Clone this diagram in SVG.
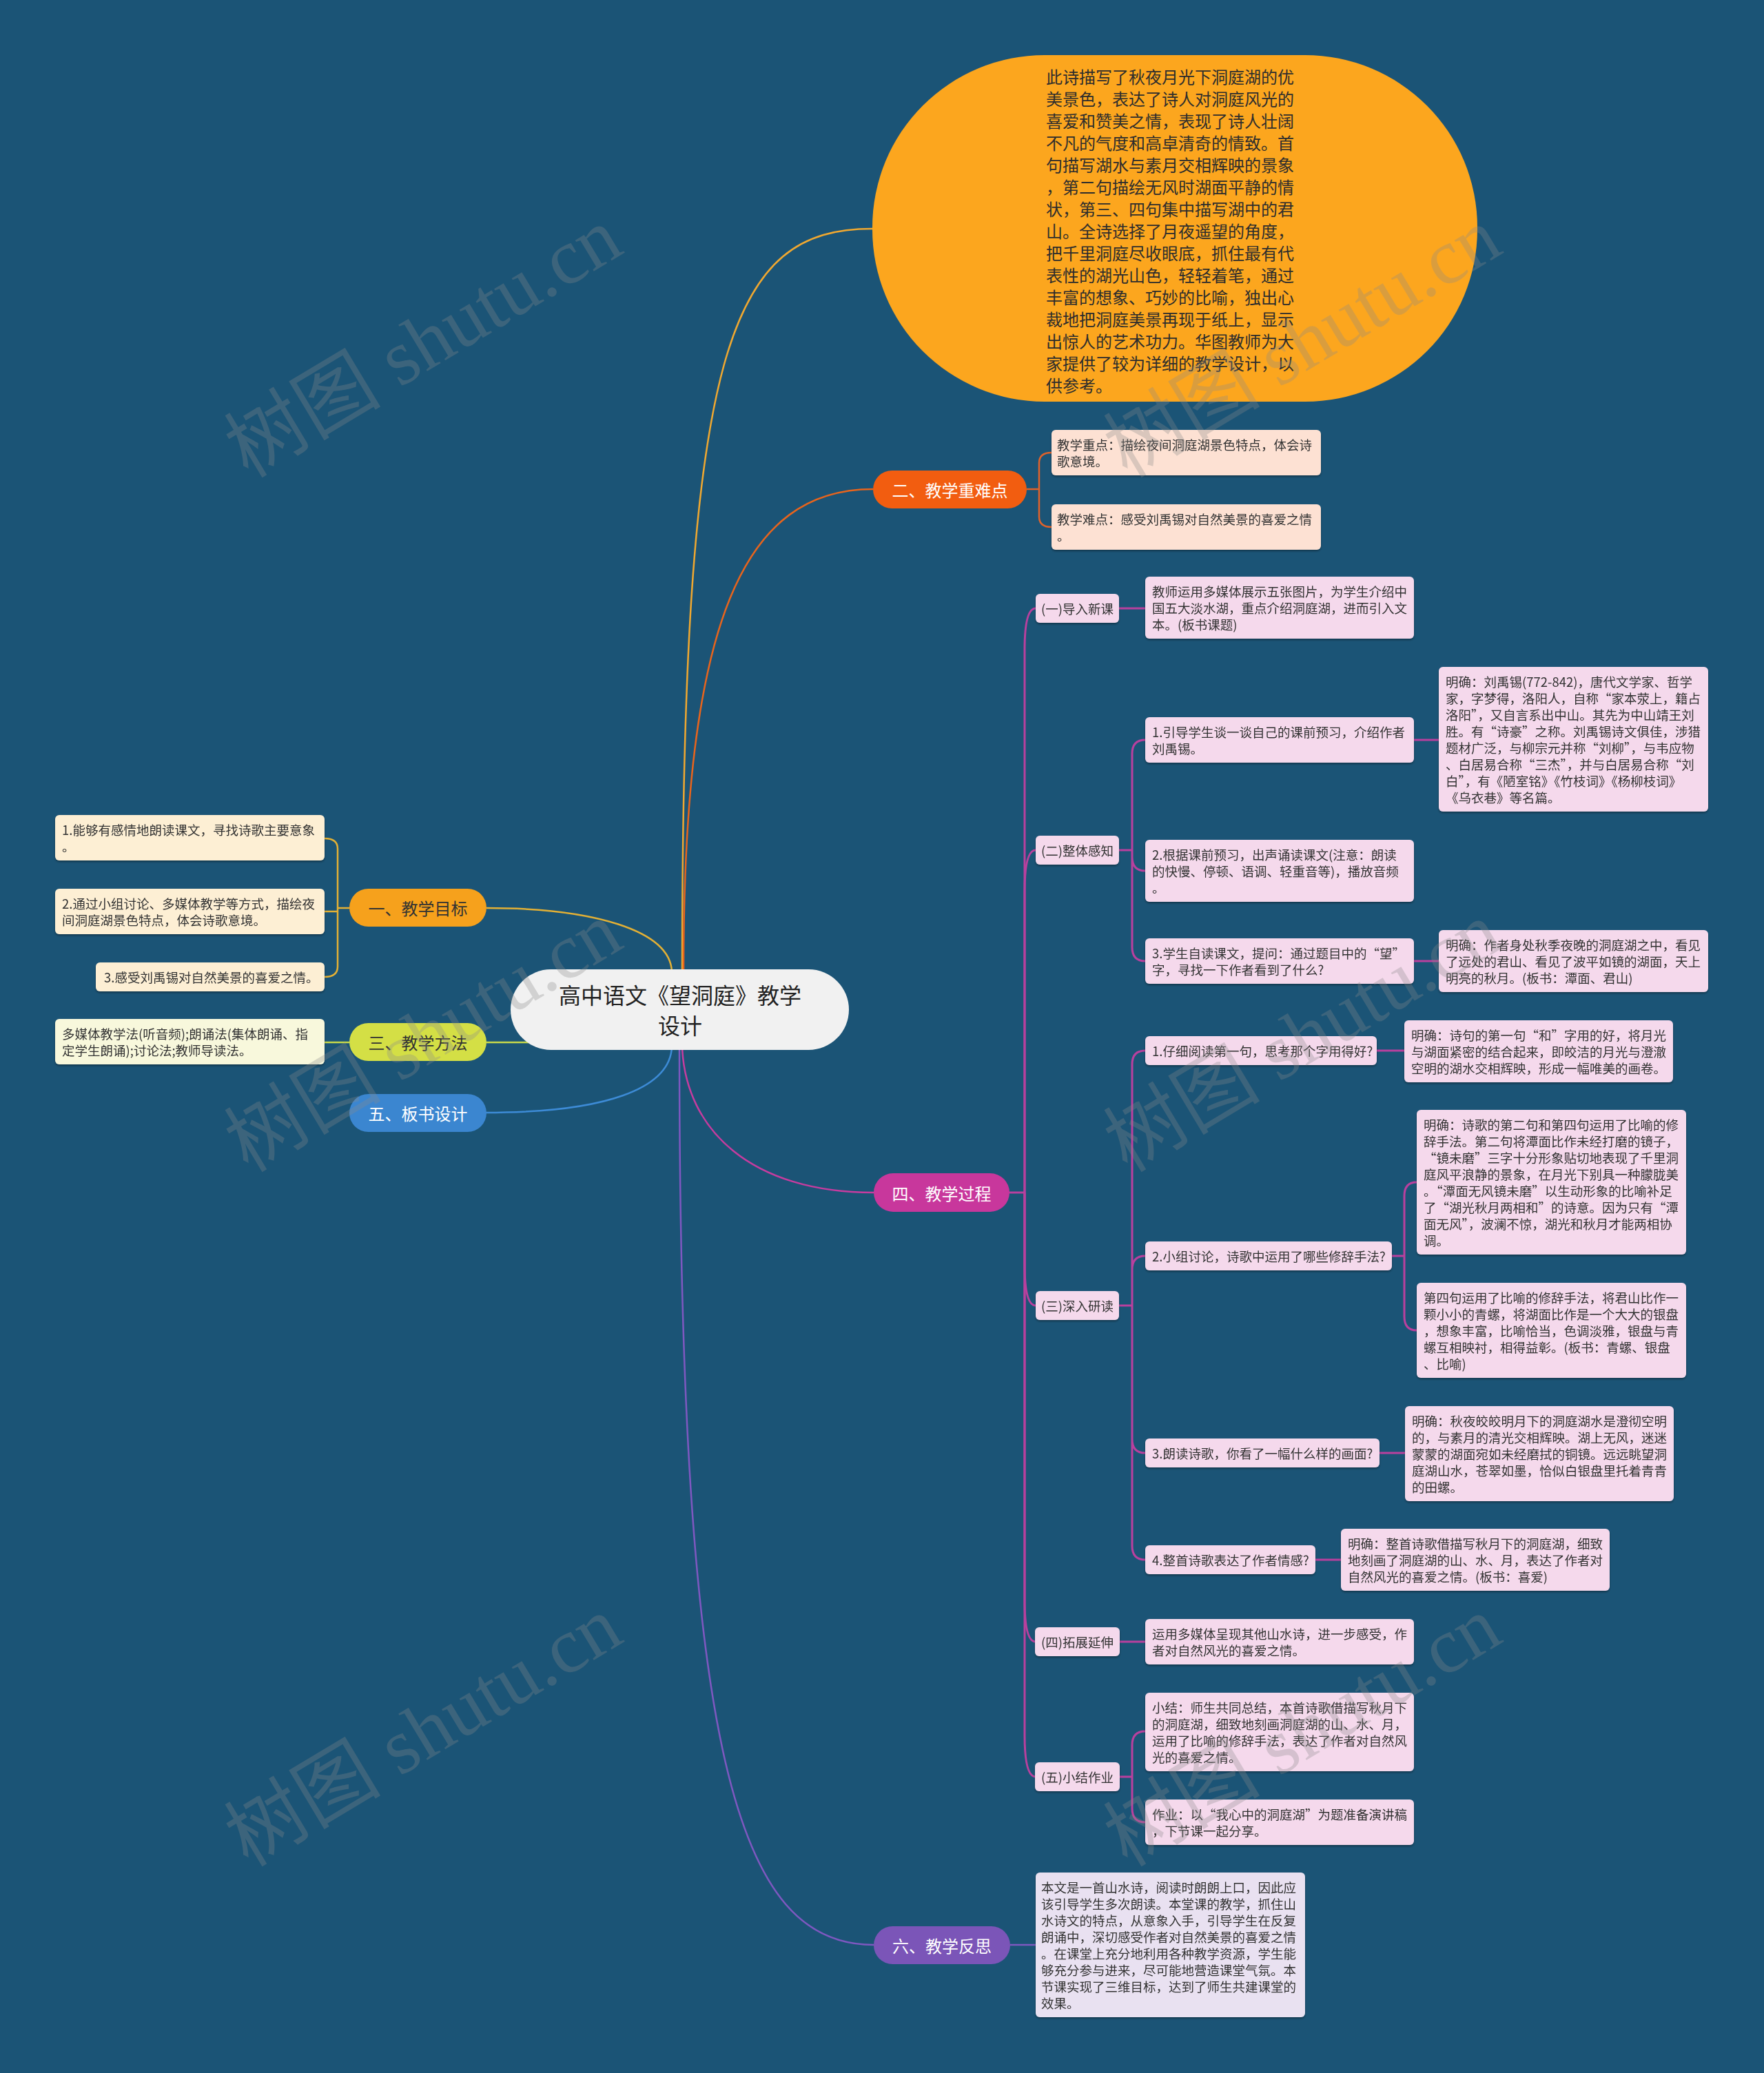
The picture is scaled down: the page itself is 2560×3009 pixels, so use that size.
<svg xmlns="http://www.w3.org/2000/svg" width="2560" height="3009" viewBox="0 0 2560 3009">
<defs>
<filter id="sh" x="-5%" y="-10%" width="110%" height="130%"><feDropShadow dx="0" dy="2" stdDeviation="1.5" flood-color="#000" flood-opacity="0.35"/></filter>
</defs>
<style>
text{font-family:"Noto Sans CJK SC","Liberation Sans",sans-serif;dominant-baseline:central}
.s{font-size:18.5px;fill:#333}
.m{font-size:24px;text-anchor:middle}
.w{fill:#fff}
.d{fill:#333}
.pk{fill:#f5d9ec}
.cn{fill:none;stroke-width:3}
.p4{stroke:#b9409e}
.wm{font-family:"Liberation Serif","Noto Sans CJK SC",serif;font-size:114px;fill:#8a8a8a;opacity:0.3;dominant-baseline:alphabetic}
</style>
<rect x="0" y="0" width="2560" height="3009" fill="#1b5476"/>

<g id="connectors" fill="none" stroke-width="2.5">
<path d="M990 1408 C990 500 1060 332 1266 332" stroke="#f0a830"/>
<path d="M992 1408 C992 900 1080 710 1267 710" stroke="#e8641c"/>
<path d="M706 1318 C860 1318 972 1350 975 1410" stroke="#e3b035"/>
<path d="M706 1513 L800 1513" stroke="#c8d94a"/>
<path d="M704 1615 C880 1615 972 1580 975 1520" stroke="#3d8bd6"/>
<path d="M990 1520 C995 1640 1090 1731 1268 1731" stroke="#c63c9f"/>
<path d="M986 1520 C986 2550 1070 2823 1268 2823" stroke="#7e58c0"/>
<g stroke="#e0622a">
<path d="M1490 710 H1508 M1508 710 V672 Q1508 657 1526 657 M1508 710 V750 Q1508 765 1526 765"/>
</g>
<g stroke="#e3b035">
<path d="M507 1318 H490 M490 1318 V1232 Q490 1217 471 1217 M490 1318 V1323 H471 M490 1318 V1403 Q490 1418 471 1418"/>
</g>
<path d="M471 1513 H507" stroke="#c8d94a"/>
<path d="M1466 2823 H1503" stroke="#7e58c0"/>
<g class="cn p4">
<path d="M1465 1731 H1487"/>
<path d="M1487 1731 V943 Q1487 883 1503 883"/>
<path d="M1487 1731 V1294 Q1487 1234 1503 1234"/>
<path d="M1487 1731 V1835 Q1487 1895 1503 1895"/>
<path d="M1487 1731 V2323 Q1487 2383 1503 2383"/>
<path d="M1487 1731 V2519 Q1487 2579 1503 2579"/>
<path d="M1624 883 H1662"/>
<path d="M1624 1234 H1643 M1643 1234 V1094 Q1643 1074 1662 1074 M1643 1234 V1244 Q1643 1264 1662 1264 M1643 1234 V1375 Q1643 1395 1662 1395"/>
<path d="M1624 1895 H1643 M1643 1895 V1545 Q1643 1525 1662 1525 M1643 1895 V1843 Q1643 1823 1662 1823 M1643 1895 V2089 Q1643 2109 1662 2109 M1643 1895 V2244 Q1643 2264 1662 2264"/>
<path d="M1625 2383 H1662"/>
<path d="M1625 2579 H1643 M1643 2579 V2533 Q1643 2513 1662 2513 M1643 2579 V2625 Q1643 2645 1662 2645"/>
<path d="M2052 1074 H2088"/>
<path d="M2052 1395 H2088"/>
<path d="M1998 1525 H2038"/>
<path d="M2020 1823 H2038 M2038 1823 V1736 Q2038 1716 2056 1716 M2038 1823 V1911 Q2038 1931 2056 1931"/>
<path d="M2002 2109 H2039"/>
<path d="M1909 2264 H1946"/>
</g>
</g>

<g id="center">
<rect x="741" y="1407" width="491" height="117" rx="58.5" fill="#f1f1f1"/>
<text x="987" y="1443" font-size="32" fill="#222" text-anchor="middle">高中语文《望洞庭》教学</text>
<text x="987" y="1487" font-size="32" fill="#222" text-anchor="middle">设计</text>
</g>

<g id="summary">
<rect x="1266" y="80" width="878" height="503" rx="250" ry="250" fill="#fca61e"/>
<text x="1518" font-size="24" fill="#2d2d2d">
<tspan x="1518" y="110">此诗描写了秋夜月光下洞庭湖的优</tspan>
<tspan x="1518" y="142">美景色，表达了诗人对洞庭风光的</tspan>
<tspan x="1518" y="174">喜爱和赞美之情，表现了诗人壮阔</tspan>
<tspan x="1518" y="206">不凡的气度和高卓清奇的情致。首</tspan>
<tspan x="1518" y="238">句描写湖水与素月交相辉映的景象</tspan>
<tspan x="1518" y="270">，第二句描绘无风时湖面平静的情</tspan>
<tspan x="1518" y="302">状，第三、四句集中描写湖中的君</tspan>
<tspan x="1518" y="334">山。全诗选择了月夜遥望的角度，</tspan>
<tspan x="1518" y="366">把千里洞庭尽收眼底，抓住最有代</tspan>
<tspan x="1518" y="398">表性的湖光山色，轻轻着笔，通过</tspan>
<tspan x="1518" y="430">丰富的想象、巧妙的比喻，独出心</tspan>
<tspan x="1518" y="462">裁地把洞庭美景再现于纸上，显示</tspan>
<tspan x="1518" y="494">出惊人的艺术功力。华图教师为大</tspan>
<tspan x="1518" y="526">家提供了较为详细的教学设计，以</tspan>
<tspan x="1518" y="558">供参考。</tspan>
</text>
</g>

<g id="n2">
<rect x="1267" y="683" width="223" height="55" rx="27.5" fill="#f25d10"/>
<text x="1378.5" y="710.5" class="m w">二、教学重难点</text>
</g>
<g id="n2-1" filter="url(#sh)">
<rect x="1526" y="624" width="391" height="66" rx="6" fill="#fde1d3"/>
<text class="s"><tspan x="1534" y="645">教学重点：描绘夜间洞庭湖景色特点，体会诗</tspan><tspan x="1534" y="669">歌意境。</tspan></text>
</g>
<g id="n2-2" filter="url(#sh)">
<rect x="1526" y="732" width="391" height="66" rx="6" fill="#fde1d3"/>
<text class="s"><tspan x="1534" y="753">教学难点：感受刘禹锡对自然美景的喜爱之情</tspan><tspan x="1534" y="777">。</tspan></text>
</g>

<g id="n1">
<rect x="507" y="1290" width="199" height="55" rx="27.5" fill="#f6a11c"/>
<text x="606.5" y="1317.5" class="m d">一、教学目标</text>
</g>
<g id="n1-1" filter="url(#sh)">
<rect x="80" y="1183" width="391" height="66" rx="6" fill="#fdefd4"/>
<text class="s"><tspan x="90" y="1204">1.能够有感情地朗读课文，寻找诗歌主要意象</tspan><tspan x="90" y="1228">。</tspan></text>
</g>
<g id="n1-2" filter="url(#sh)">
<rect x="80" y="1290" width="391" height="66" rx="6" fill="#fdefd4"/>
<text class="s"><tspan x="90" y="1311">2.通过小组讨论、多媒体教学等方式，描绘夜</tspan><tspan x="90" y="1335">间洞庭湖景色特点，体会诗歌意境。</tspan></text>
</g>
<g id="n1-3" filter="url(#sh)">
<rect x="139" y="1397" width="332" height="42" rx="6" fill="#fdefd4"/>
<text class="s" x="151" y="1418">3.感受刘禹锡对自然美景的喜爱之情。</text>
</g>

<g id="n3">
<rect x="507" y="1485" width="199" height="55" rx="27.5" fill="#d4df45"/>
<text x="606.5" y="1512.5" class="m d">三、教学方法</text>
</g>
<g id="n3-1" filter="url(#sh)">
<rect x="80" y="1479" width="391" height="66" rx="6" fill="#f8f8dc"/>
<text class="s"><tspan x="90" y="1500">多媒体教学法(听音频);朗诵法(集体朗诵、指</tspan><tspan x="90" y="1524">定学生朗诵);讨论法;教师导读法。</tspan></text>
</g>

<g id="n5">
<rect x="507" y="1588" width="199" height="55" rx="27.5" fill="#3b86d0"/>
<text x="606.5" y="1615.5" class="m w">五、板书设计</text>
</g>

<g id="n4">
<rect x="1268" y="1703" width="197" height="56" rx="28" fill="#c8379c"/>
<text x="1366.5" y="1731" class="m w">四、教学过程</text>
</g>

<g id="n4-1" filter="url(#sh)">
<rect x="1503" y="862" width="121" height="42" rx="6" class="pk"/>
<text class="s" x="1563.5" y="883" text-anchor="middle">(一)导入新课</text>
</g>
<g id="n4-1-1" filter="url(#sh)">
<rect x="1662" y="837" width="390" height="90" rx="6" class="pk"/>
<text class="s"><tspan x="1672" y="858">教师运用多媒体展示五张图片，为学生介绍中</tspan><tspan x="1672" y="882">国五大淡水湖，重点介绍洞庭湖，进而引入文</tspan><tspan x="1672" y="906">本。(板书课题)</tspan></text>
</g>

<g id="n4-2" filter="url(#sh)">
<rect x="1503" y="1213" width="121" height="42" rx="6" class="pk"/>
<text class="s" x="1563.5" y="1234" text-anchor="middle">(二)整体感知</text>
</g>
<g id="n4-2-1" filter="url(#sh)">
<rect x="1662" y="1041" width="390" height="66" rx="6" class="pk"/>
<text class="s"><tspan x="1672" y="1062">1.引导学生谈一谈自己的课前预习，介绍作者</tspan><tspan x="1672" y="1086">刘禹锡。</tspan></text>
</g>
<g id="n4-2-1-1" filter="url(#sh)">
<rect x="2088" y="968" width="391" height="210" rx="6" class="pk"/>
<text class="s"><tspan x="2098" y="989">明确：刘禹锡(772-842)，唐代文学家、哲学</tspan><tspan x="2098" y="1013">家，字梦得，洛阳人，自称“家本荥上，籍占</tspan><tspan x="2098" y="1037">洛阳”，又自言系出中山。其先为中山靖王刘</tspan><tspan x="2098" y="1061">胜。有“诗豪”之称。刘禹锡诗文俱佳，涉猎</tspan><tspan x="2098" y="1085">题材广泛，与柳宗元并称“刘柳”，与韦应物</tspan><tspan x="2098" y="1109">、白居易合称“三杰”，并与白居易合称“刘</tspan><tspan x="2098" y="1133">白”，有《陋室铭》《竹枝词》《杨柳枝词》</tspan><tspan x="2098" y="1157">《乌衣巷》等名篇。</tspan></text>
</g>
<g id="n4-2-2" filter="url(#sh)">
<rect x="1662" y="1219" width="390" height="90" rx="6" class="pk"/>
<text class="s"><tspan x="1672" y="1240">2.根据课前预习，出声诵读课文(注意：朗读</tspan><tspan x="1672" y="1264">的快慢、停顿、语调、轻重音等)，播放音频</tspan><tspan x="1672" y="1288">。</tspan></text>
</g>
<g id="n4-2-3" filter="url(#sh)">
<rect x="1662" y="1362" width="390" height="66" rx="6" class="pk"/>
<text class="s"><tspan x="1672" y="1383">3.学生自读课文，提问：通过题目中的“望”</tspan><tspan x="1672" y="1407">字，寻找一下作者看到了什么?</tspan></text>
</g>
<g id="n4-2-3-1" filter="url(#sh)">
<rect x="2088" y="1350" width="391" height="90" rx="6" class="pk"/>
<text class="s"><tspan x="2098" y="1371">明确：作者身处秋季夜晚的洞庭湖之中，看见</tspan><tspan x="2098" y="1395">了远处的君山、看见了波平如镜的湖面，天上</tspan><tspan x="2098" y="1419">明亮的秋月。(板书：潭面、君山)</tspan></text>
</g>

<g id="n4-3" filter="url(#sh)">
<rect x="1503" y="1874" width="121" height="42" rx="6" class="pk"/>
<text class="s" x="1563.5" y="1895" text-anchor="middle">(三)深入研读</text>
</g>
<g id="n4-3-1" filter="url(#sh)">
<rect x="1662" y="1504" width="336" height="42" rx="6" class="pk"/>
<text class="s" x="1672" y="1525">1.仔细阅读第一句，思考那个字用得好?</text>
</g>
<g id="n4-3-1-1" filter="url(#sh)">
<rect x="2038" y="1481" width="390" height="90" rx="6" class="pk"/>
<text class="s"><tspan x="2048" y="1502">明确：诗句的第一句“和”字用的好，将月光</tspan><tspan x="2048" y="1526">与湖面紧密的结合起来，即皎洁的月光与澄澈</tspan><tspan x="2048" y="1550">空明的湖水交相辉映，形成一幅唯美的画卷。</tspan></text>
</g>
<g id="n4-3-2" filter="url(#sh)">
<rect x="1662" y="1802" width="358" height="42" rx="6" class="pk"/>
<text class="s" x="1672" y="1823">2.小组讨论，诗歌中运用了哪些修辞手法?</text>
</g>
<g id="n4-3-2-1" filter="url(#sh)">
<rect x="2056" y="1611" width="391" height="210" rx="6" class="pk"/>
<text class="s"><tspan x="2066" y="1632">明确：诗歌的第二句和第四句运用了比喻的修</tspan><tspan x="2066" y="1656">辞手法。第二句将潭面比作未经打磨的镜子，</tspan><tspan x="2066" y="1680">“镜未磨”三字十分形象贴切地表现了千里洞</tspan><tspan x="2066" y="1704">庭风平浪静的景象，在月光下别具一种朦胧美</tspan><tspan x="2066" y="1728">。“潭面无风镜未磨”以生动形象的比喻补足</tspan><tspan x="2066" y="1752">了“湖光秋月两相和”的诗意。因为只有“潭</tspan><tspan x="2066" y="1776">面无风”，波澜不惊，湖光和秋月才能两相协</tspan><tspan x="2066" y="1800">调。</tspan></text>
</g>
<g id="n4-3-2-2" filter="url(#sh)">
<rect x="2056" y="1862" width="391" height="138" rx="6" class="pk"/>
<text class="s"><tspan x="2066" y="1883">第四句运用了比喻的修辞手法，将君山比作一</tspan><tspan x="2066" y="1907">颗小小的青螺，将湖面比作是一个大大的银盘</tspan><tspan x="2066" y="1931">，想象丰富，比喻恰当，色调淡雅，银盘与青</tspan><tspan x="2066" y="1955">螺互相映衬，相得益彰。(板书：青螺、银盘</tspan><tspan x="2066" y="1979">、比喻)</tspan></text>
</g>
<g id="n4-3-3" filter="url(#sh)">
<rect x="1662" y="2088" width="340" height="42" rx="6" class="pk"/>
<text class="s" x="1672" y="2109">3.朗读诗歌，你看了一幅什么样的画面?</text>
</g>
<g id="n4-3-3-1" filter="url(#sh)">
<rect x="2039" y="2041" width="390" height="138" rx="6" class="pk"/>
<text class="s"><tspan x="2049" y="2062">明确：秋夜皎皎明月下的洞庭湖水是澄彻空明</tspan><tspan x="2049" y="2086">的，与素月的清光交相辉映。湖上无风，迷迷</tspan><tspan x="2049" y="2110">蒙蒙的湖面宛如未经磨拭的铜镜。远远眺望洞</tspan><tspan x="2049" y="2134">庭湖山水，苍翠如墨，恰似白银盘里托着青青</tspan><tspan x="2049" y="2158">的田螺。</tspan></text>
</g>
<g id="n4-3-4" filter="url(#sh)">
<rect x="1662" y="2243" width="247" height="42" rx="6" class="pk"/>
<text class="s" x="1672" y="2264">4.整首诗歌表达了作者情感?</text>
</g>
<g id="n4-3-4-1" filter="url(#sh)">
<rect x="1946" y="2219" width="390" height="90" rx="6" class="pk"/>
<text class="s"><tspan x="1956" y="2240">明确：整首诗歌借描写秋月下的洞庭湖，细致</tspan><tspan x="1956" y="2264">地刻画了洞庭湖的山、水、月，表达了作者对</tspan><tspan x="1956" y="2288">自然风光的喜爱之情。(板书：喜爱)</tspan></text>
</g>

<g id="n4-4" filter="url(#sh)">
<rect x="1502" y="2362" width="123" height="42" rx="6" class="pk"/>
<text class="s" x="1563.5" y="2383" text-anchor="middle">(四)拓展延伸</text>
</g>
<g id="n4-4-1" filter="url(#sh)">
<rect x="1662" y="2350" width="390" height="66" rx="6" class="pk"/>
<text class="s"><tspan x="1672" y="2371">运用多媒体呈现其他山水诗，进一步感受，作</tspan><tspan x="1672" y="2395">者对自然风光的喜爱之情。</tspan></text>
</g>

<g id="n4-5" filter="url(#sh)">
<rect x="1502" y="2558" width="123" height="42" rx="6" class="pk"/>
<text class="s" x="1563.5" y="2579" text-anchor="middle">(五)小结作业</text>
</g>
<g id="n4-5-1" filter="url(#sh)">
<rect x="1662" y="2457" width="390" height="114" rx="6" class="pk"/>
<text class="s"><tspan x="1672" y="2478">小结：师生共同总结，本首诗歌借描写秋月下</tspan><tspan x="1672" y="2502">的洞庭湖，细致地刻画洞庭湖的山、水、月，</tspan><tspan x="1672" y="2526">运用了比喻的修辞手法，表达了作者对自然风</tspan><tspan x="1672" y="2550">光的喜爱之情。</tspan></text>
</g>
<g id="n4-5-2" filter="url(#sh)">
<rect x="1662" y="2612" width="390" height="66" rx="6" class="pk"/>
<text class="s"><tspan x="1672" y="2633">作业：以“我心中的洞庭湖”为题准备演讲稿</tspan><tspan x="1672" y="2657">，下节课一起分享。</tspan></text>
</g>

<g id="n6">
<rect x="1268" y="2796" width="198" height="55" rx="27.5" fill="#7b55b8"/>
<text x="1367" y="2823.5" class="m w">六、教学反思</text>
</g>
<g id="n6-1" filter="url(#sh)">
<rect x="1503" y="2718" width="391" height="210" rx="6" fill="#e9e1f1"/>
<text class="s"><tspan x="1511" y="2739">本文是一首山水诗，阅读时朗朗上口，因此应</tspan><tspan x="1511" y="2763">该引导学生多次朗读。本堂课的教学，抓住山</tspan><tspan x="1511" y="2787">水诗文的特点，从意象入手，引导学生在反复</tspan><tspan x="1511" y="2811">朗诵中，深切感受作者对自然美景的喜爱之情</tspan><tspan x="1511" y="2835">。在课堂上充分地利用各种教学资源，学生能</tspan><tspan x="1511" y="2859">够充分参与进来，尽可能地营造课堂气氛。本</tspan><tspan x="1511" y="2883">节课实现了三维目标，达到了师生共建课堂的</tspan><tspan x="1511" y="2907">效果。</tspan></text>
</g>

<g id="watermarks">
<text class="wm" x="360" y="695" transform="rotate(-31 360 695)">树图 shutu.cn</text>
<text class="wm" x="1636" y="695" transform="rotate(-31 1636 695)">树图 shutu.cn</text>
<text class="wm" x="360" y="1703" transform="rotate(-31 360 1703)">树图 shutu.cn</text>
<text class="wm" x="1636" y="1703" transform="rotate(-31 1636 1703)">树图 shutu.cn</text>
<text class="wm" x="360" y="2711" transform="rotate(-31 360 2711)">树图 shutu.cn</text>
<text class="wm" x="1636" y="2711" transform="rotate(-31 1636 2711)">树图 shutu.cn</text>
</g>
</svg>
